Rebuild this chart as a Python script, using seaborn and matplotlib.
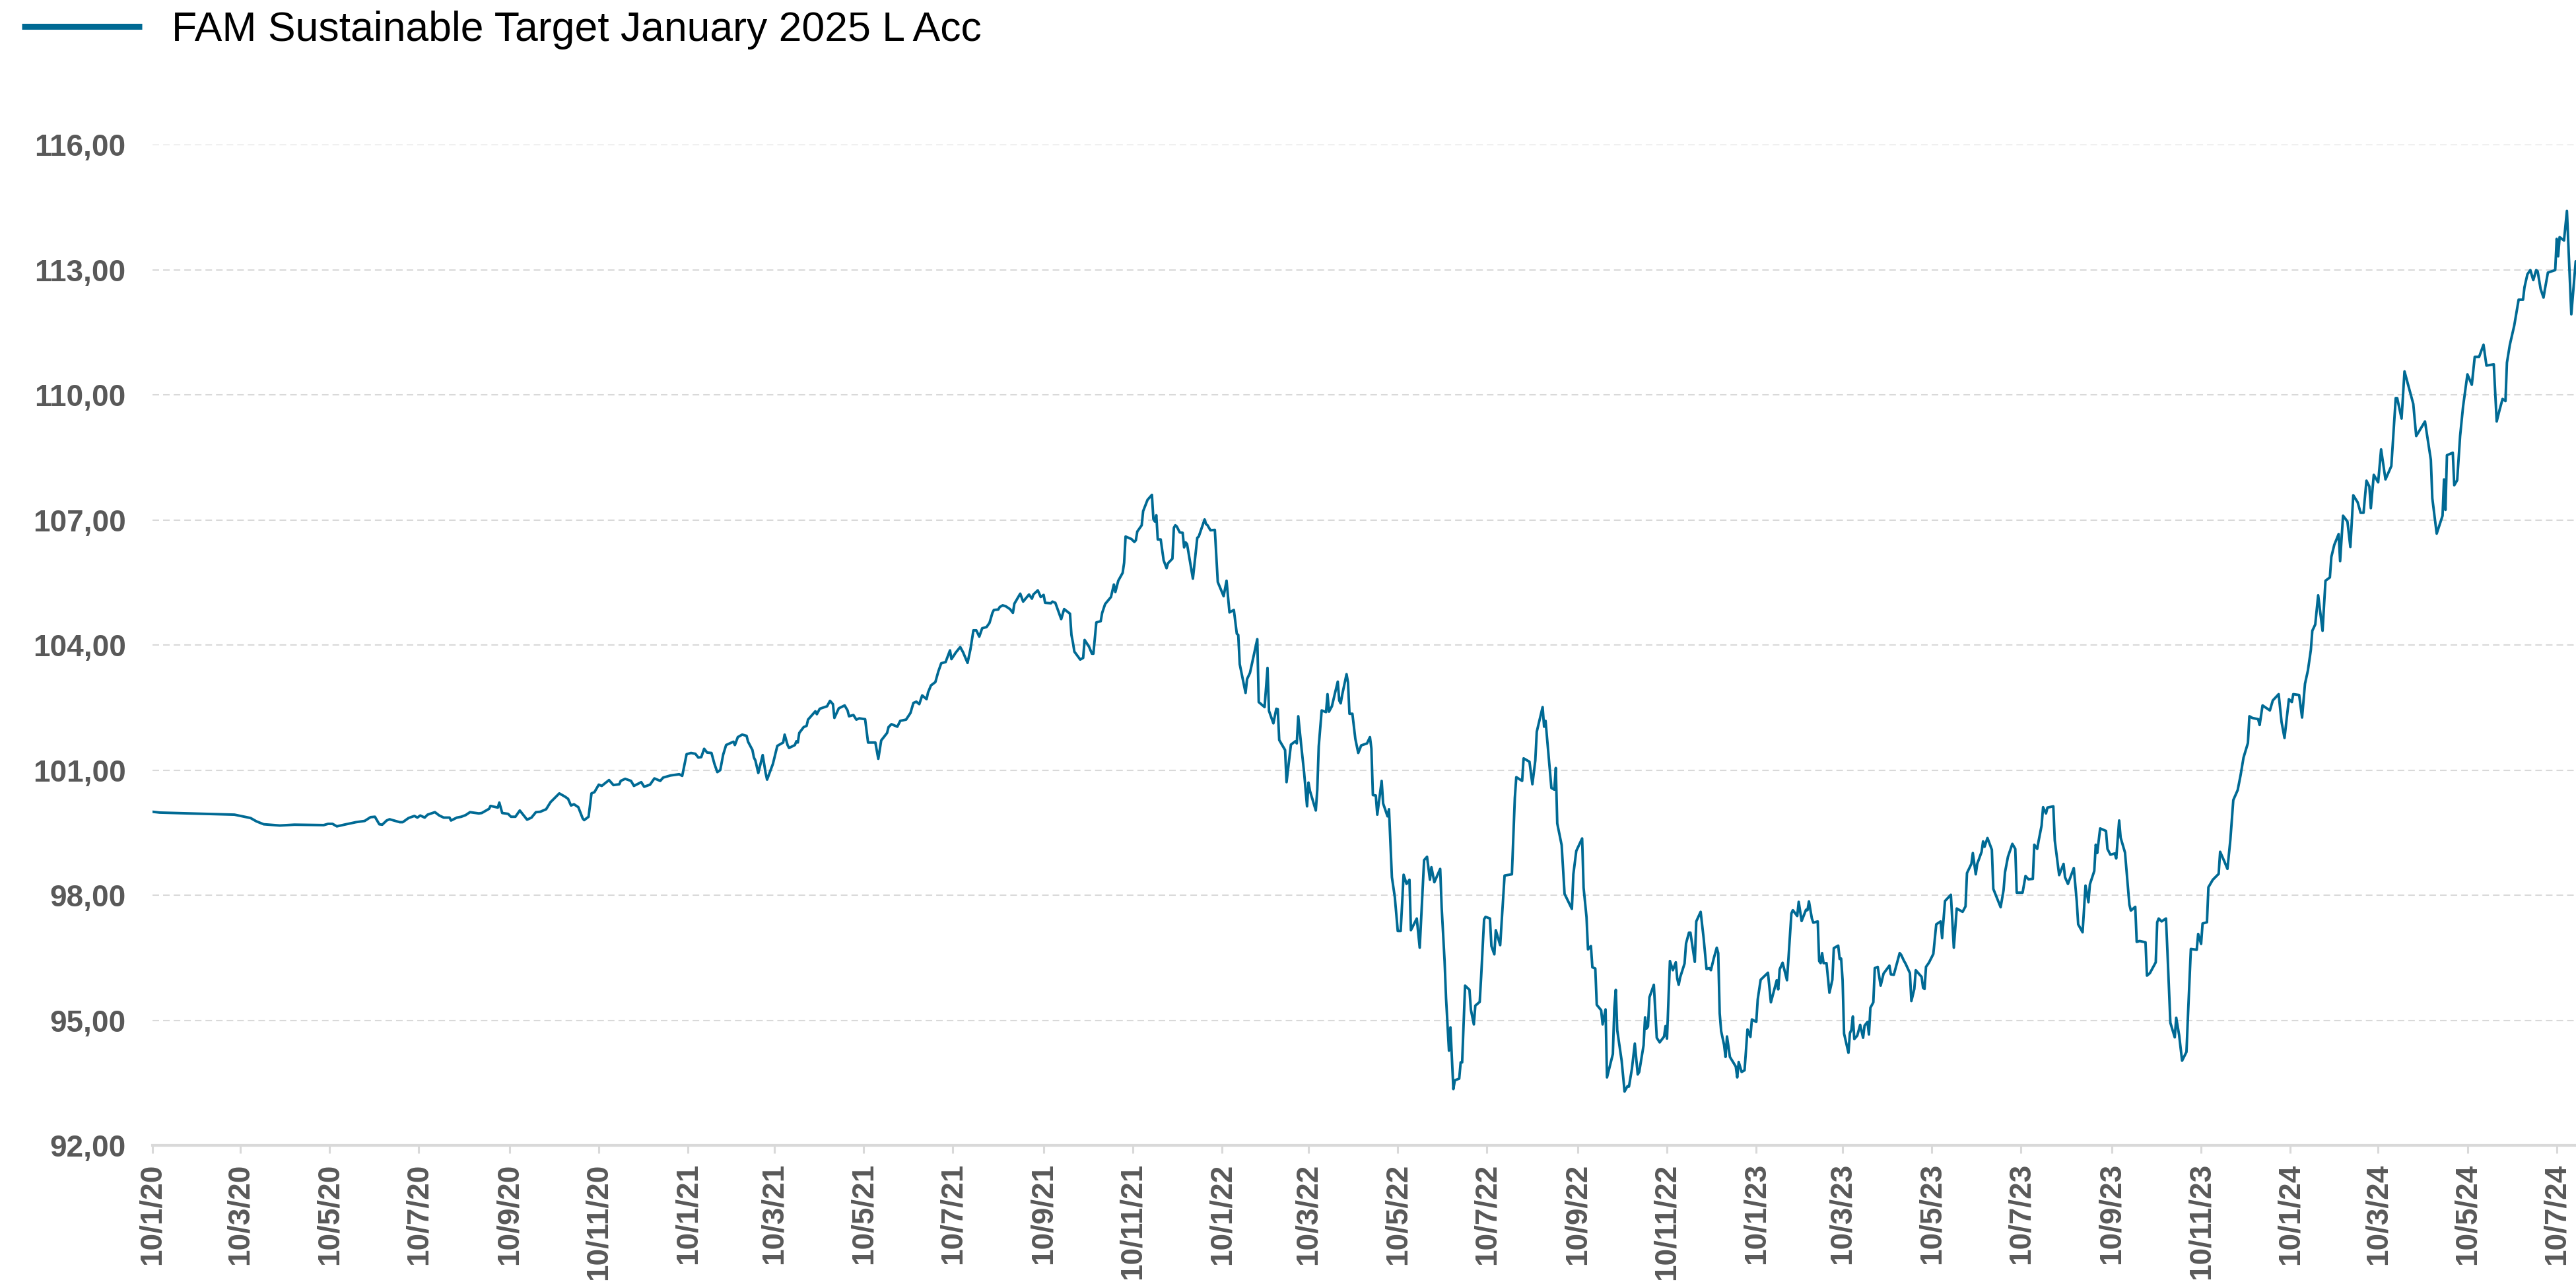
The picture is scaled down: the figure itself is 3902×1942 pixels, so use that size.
import matplotlib
matplotlib.use("Agg")
import matplotlib.pyplot as plt
import matplotlib.ticker as mticker
from matplotlib.lines import Line2D
import pandas as pd
import seaborn as sns

# ---------------------------------------------------------------------------
# Data: net asset value per share, indexed by calendar days since 10/1/2020
# ---------------------------------------------------------------------------
START_DATE = "2020-01-10"
FUND_NAME = "FAM Sustainable Target January 2025 L Acc"

nav_2020 = [
    (0, 100.00), (5, 99.98), (56, 99.93), (67, 99.85), (71, 99.77), (76, 99.70),
    (87, 99.67), (97, 99.69), (117, 99.68), (120, 99.71), (123, 99.71), (126, 99.65),
    (131, 99.69), (139, 99.75), (145, 99.78), (149, 99.87), (152, 99.88), (155, 99.70),
    (157, 99.69), (160, 99.79), (162, 99.82), (169, 99.75), (171, 99.75), (175, 99.85),
    (179, 99.90), (181, 99.86), (183, 99.91), (186, 99.86), (188, 99.93), (193, 99.99),
    (196, 99.91), (199, 99.86), (203, 99.86), (204, 99.79), (208, 99.86), (211, 99.88),
    (214, 99.92), (217, 99.99), (223, 99.96), (225, 99.97), (230, 100.07), (231, 100.14),
    (236, 100.10), (237, 100.22), (239, 99.97), (243, 99.95), (245, 99.88), (248, 99.88),
    (251, 100.03), (256, 99.81), (259, 99.86), (262, 99.99), (265, 100.00), (269, 100.06),
    (272, 100.23), (278, 100.44), (282, 100.36), (284, 100.31), (286, 100.15), (288, 100.18),
    (291, 100.11), (294, 99.84), (295, 99.80), (298, 99.88), (300, 100.44), (302, 100.47),
    (305, 100.65), (307, 100.62), (312, 100.76), (315, 100.64), (319, 100.66), (320, 100.74),
    (323, 100.79), (327, 100.74), (329, 100.62), (334, 100.71), (336, 100.60), (340, 100.65),
    (343, 100.80), (347, 100.74), (349, 100.82), (354, 100.87),
]

nav_2021 = [
    (360, 100.90), (362, 100.86), (365, 101.38), (368, 101.41), (371, 101.39), (373, 101.30),
    (375, 101.31), (377, 101.51), (379, 101.42), (382, 101.41), (384, 101.15), (386, 100.95),
    (388, 101.00), (390, 101.37), (392, 101.60), (397, 101.68), (398, 101.60), (400, 101.79),
    (403, 101.85), (406, 101.82), (407, 101.68), (410, 101.48), (411, 101.30), (412, 101.23),
    (414, 100.93), (417, 101.36), (419, 100.93), (420, 100.77), (424, 101.15), (427, 101.58),
    (431, 101.66), (432, 101.85), (434, 101.60), (435, 101.53), (439, 101.60), (440, 101.69),
    (441, 101.66), (442, 101.89), (445, 102.03), (447, 102.06), (448, 102.21), (451, 102.33),
    (453, 102.41), (454, 102.34), (456, 102.47), (461, 102.53), (463, 102.66), (465, 102.58),
    (466, 102.25), (469, 102.48), (473, 102.55), (475, 102.43), (476, 102.29), (479, 102.32),
    (481, 102.21), (483, 102.24), (487, 102.22), (489, 101.66), (491, 101.66), (494, 101.66),
    (496, 101.27), (498, 101.71), (502, 101.89), (503, 102.03), (505, 102.10), (509, 102.04),
    (511, 102.18), (515, 102.21), (518, 102.37), (520, 102.61), (522, 102.64), (524, 102.58),
    (526, 102.79), (529, 102.70), (530, 102.86), (532, 103.03), (535, 103.11), (537, 103.36),
    (539, 103.56), (542, 103.59), (545, 103.87), (546, 103.66), (549, 103.82), (552, 103.95),
    (554, 103.82), (557, 103.57), (559, 103.90), (561, 104.35), (563, 104.35), (565, 104.20),
    (567, 104.40), (570, 104.43), (572, 104.53), (574, 104.77), (575, 104.84), (578, 104.85),
    (579, 104.91), (581, 104.95), (583, 104.93), (586, 104.86), (588, 104.77), (589, 104.99),
    (593, 105.23), (595, 105.04), (599, 105.21), (601, 105.11), (602, 105.21), (605, 105.31),
    (607, 105.15), (609, 105.20), (610, 105.01), (614, 105.00), (615, 105.04), (617, 105.01),
    (621, 104.62), (623, 104.86), (627, 104.75), (628, 104.24), (629, 104.06), (630, 103.84),
    (634, 103.65), (636, 103.69), (637, 104.12), (640, 103.96), (642, 103.79), (643, 103.79),
    (645, 104.54), (648, 104.57), (649, 104.77), (651, 104.98), (655, 105.15), (657, 105.45),
    (658, 105.27), (660, 105.54), (663, 105.73), (664, 105.97), (665, 106.60), (669, 106.54),
    (671, 106.47), (672, 106.51), (673, 106.72), (676, 106.87), (677, 107.21), (678, 107.30),
    (680, 107.48), (683, 107.60), (684, 107.02), (685, 106.96), (686, 107.11), (687, 106.53),
    (689, 106.53), (691, 106.03), (693, 105.84), (694, 105.96), (697, 106.07), (698, 106.81),
    (699, 106.87), (700, 106.84), (702, 106.70), (704, 106.69), (705, 106.34), (706, 106.46),
    (707, 106.42), (711, 105.59), (714, 106.57), (715, 106.60), (719, 107.01), (720, 106.90),
    (721, 106.87),
]

nav_2022 = [
    (723, 106.75), (726, 106.76), (728, 105.51), (732, 105.17), (734, 105.54), (736, 104.78),
    (739, 104.84), (741, 104.27), (742, 104.24), (743, 103.54), (747, 102.85), (748, 103.18),
    (750, 103.33), (755, 104.14), (756, 102.63), (760, 102.51), (762, 103.45), (763, 102.42),
    (766, 102.12), (768, 102.47), (769, 102.46), (770, 101.72), (774, 101.48), (775, 100.71),
    (778, 101.61), (781, 101.69), (782, 101.64), (783, 102.29), (785, 101.60), (787, 100.94),
    (789, 100.13), (790, 100.70), (791, 100.50), (795, 100.03), (796, 100.53), (797, 101.57),
    (799, 102.43), (802, 102.39), (803, 102.82), (804, 102.40), (806, 102.53), (808, 102.83),
    (810, 103.12), (811, 102.67), (812, 102.60), (813, 102.80), (816, 103.30), (817, 103.10),
    (818, 102.35), (820, 102.35), (822, 101.75), (824, 101.41), (826, 101.59), (830, 101.64),
    (832, 101.79), (833, 101.51), (834, 100.40), (836, 100.39), (837, 99.93), (840, 100.74),
    (841, 100.20), (844, 99.89), (845, 100.06), (847, 98.43), (849, 97.95), (851, 97.14),
    (853, 97.14), (855, 98.49), (857, 98.27), (859, 98.37), (860, 97.16), (864, 97.44),
    (866, 96.74), (869, 98.84), (871, 98.92), (873, 98.37), (874, 98.67), (876, 98.31),
    (880, 98.63), (881, 97.71), (883, 96.42), (884, 95.53), (886, 94.27), (887, 94.83),
    (889, 93.35), (890, 93.56), (893, 93.60), (894, 93.99), (895, 93.99), (897, 95.83),
    (900, 95.73), (901, 95.25), (903, 94.90), (904, 95.35), (907, 95.44), (908, 96.05),
    (910, 97.42), (911, 97.48), (914, 97.44), (915, 96.78), (917, 96.58), (918, 97.16),
    (921, 96.80), (924, 98.47), (929, 98.50), (931, 100.33), (932, 100.83), (936, 100.74),
    (937, 101.28), (941, 101.20), (943, 100.66), (945, 101.23), (946, 101.92), (950, 102.51),
    (951, 102.04), (952, 102.18), (956, 100.57), (958, 100.53), (959, 101.05), (960, 99.72),
    (963, 99.20), (965, 98.03), (970, 97.67), (971, 98.50), (973, 99.06), (977, 99.36),
    (978, 98.18), (980, 97.47), (981, 96.70), (983, 96.78), (984, 96.27), (986, 96.24),
    (987, 95.37), (990, 95.24), (991, 94.90), (993, 95.26), (994, 93.63), (998, 94.19),
    (999, 95.29), (1000, 95.73), (1001, 94.76), (1004, 94.03), (1006, 93.29), (1008, 93.42),
    (1009, 93.41), (1011, 93.83), (1013, 94.44), (1015, 93.70), (1016, 93.76), (1019, 94.40),
    (1020, 95.07), (1021, 94.80), (1022, 94.85), (1023, 95.55), (1026, 95.85), (1028, 94.58),
    (1030, 94.47), (1033, 94.61), (1034, 94.86), (1035, 94.56), (1037, 96.42), (1039, 96.20),
    (1041, 96.39), (1042, 96.00), (1043, 95.85), (1044, 96.03), (1047, 96.36), (1048, 96.84),
    (1050, 97.10), (1051, 97.10), (1054, 96.40), (1055, 97.37), (1058, 97.60), (1060, 96.98),
    (1062, 96.23), (1064, 96.25), (1065, 96.20), (1067, 96.49), (1069, 96.74), (1070, 96.61),
    (1071, 95.17), (1072, 94.74), (1074, 94.41), (1075, 94.12), (1076, 94.61), (1078, 94.12),
    (1082, 93.89), (1083, 93.63), (1084, 94.00), (1086, 93.76),
]

nav_2023 = [
    (1088, 93.80), (1090, 94.78), (1092, 94.60), (1093, 95.02), (1096, 94.96), (1097, 95.50),
    (1099, 95.97), (1104, 96.14), (1106, 95.43), (1110, 95.96), (1111, 95.74), (1112, 96.22),
    (1114, 96.38), (1117, 95.96), (1118, 96.48), (1120, 97.56), (1121, 97.64), (1124, 97.50),
    (1125, 97.84), (1127, 97.38), (1130, 97.65), (1131, 97.64), (1132, 97.85), (1134, 97.44),
    (1135, 97.34), (1138, 97.37), (1139, 96.42), (1140, 96.37), (1141, 96.61), (1142, 96.37),
    (1144, 96.37), (1146, 95.66), (1148, 95.97), (1149, 96.73), (1152, 96.79), (1153, 96.47),
    (1154, 96.48), (1155, 95.96), (1156, 94.68), (1159, 94.22), (1160, 94.69), (1161, 94.77),
    (1162, 95.09), (1163, 94.55), (1165, 94.63), (1167, 94.89), (1169, 94.58), (1170, 94.87),
    (1172, 94.96), (1173, 94.66), (1174, 95.30), (1176, 95.43), (1177, 96.25), (1179, 96.28),
    (1181, 95.83), (1183, 96.12), (1187, 96.31), (1188, 96.10), (1190, 96.09), (1194, 96.61),
    (1195, 96.57), (1197, 96.42), (1198, 96.36), (1201, 96.13), (1202, 95.46), (1204, 95.75),
    (1205, 96.20), (1209, 96.04), (1210, 95.78), (1211, 95.75), (1212, 96.28), (1214, 96.38),
    (1217, 96.59), (1219, 97.30), (1222, 97.37), (1223, 96.97), (1224, 97.43), (1225, 97.86),
    (1229, 98.01), (1231, 96.74), (1233, 97.68), (1237, 97.60), (1239, 97.73), (1240, 98.53),
    (1243, 98.75), (1244, 99.01), (1246, 98.50), (1247, 98.75), (1250, 99.04), (1251, 99.29),
    (1252, 99.16), (1254, 99.37), (1257, 99.09), (1258, 98.15), (1263, 97.71), (1265, 98.12),
    (1266, 98.55), (1268, 98.92), (1271, 99.23), (1273, 99.11), (1274, 98.06), (1278, 98.06),
    (1280, 98.46), (1282, 98.38), (1285, 98.39), (1286, 99.21), (1288, 99.11), (1289, 99.31),
    (1291, 99.67), (1292, 100.11), (1294, 99.96), (1295, 100.10), (1299, 100.13), (1300, 99.31),
    (1303, 98.48), (1306, 98.75), (1307, 98.43), (1309, 98.27), (1313, 98.65), (1315, 97.86),
    (1316, 97.30), (1319, 97.11), (1321, 98.23), (1323, 97.83), (1324, 98.26), (1327, 98.58),
    (1328, 99.21), (1329, 99.01), (1331, 99.60), (1335, 99.54), (1336, 99.11), (1338, 98.97),
    (1341, 99.00), (1342, 98.88), (1344, 99.79), (1345, 99.38), (1348, 99.02), (1351, 97.77),
    (1352, 97.63), (1355, 97.72), (1356, 96.88), (1358, 96.90), (1362, 96.87), (1363, 96.07),
    (1365, 96.13), (1369, 96.39), (1370, 97.35), (1371, 97.44), (1373, 97.37), (1376, 97.44),
    (1377, 96.64), (1379, 94.94), (1382, 94.59), (1383, 95.06), (1385, 94.64), (1387, 94.03),
    (1390, 94.24), (1391, 95.09), (1393, 96.71), (1397, 96.69), (1398, 97.07), (1400, 96.83),
    (1401, 97.32), (1404, 97.35), (1405, 98.19), (1408, 98.37), (1412, 98.51), (1413, 99.04),
    (1416, 98.80), (1418, 98.63), (1420, 99.33), (1422, 100.28), (1425, 100.52), (1427, 100.88),
    (1429, 101.30), (1432, 101.65), (1433, 102.29), (1435, 102.25), (1439, 102.22), (1440, 102.08),
    (1442, 102.55), (1447, 102.43), (1449, 102.67),
]

nav_2024 = [
    (1453, 102.82), (1455, 102.15), (1457, 101.77), (1460, 102.70), (1462, 102.63), (1463, 102.82),
    (1467, 102.80), (1469, 102.26), (1471, 103.07), (1473, 103.39), (1475, 103.88), (1476, 104.34),
    (1478, 104.49), (1480, 105.19), (1483, 104.34), (1485, 105.54), (1488, 105.62), (1489, 106.11),
    (1491, 106.40), (1494, 106.66), (1495, 106.01), (1497, 107.10), (1500, 106.96), (1502, 106.35),
    (1504, 107.59), (1507, 107.42), (1509, 107.17), (1511, 107.17), (1513, 107.94), (1515, 107.80),
    (1516, 107.28), (1518, 108.08), (1521, 107.90), (1523, 108.69), (1526, 107.97), (1530, 108.29),
    (1533, 109.92), (1534, 109.92), (1537, 109.43), (1539, 110.56), (1545, 109.78), (1547, 109.01),
    (1553, 109.36), (1557, 108.44), (1558, 107.52), (1561, 106.67), (1565, 107.10), (1566, 107.97),
    (1567, 107.24), (1568, 108.55), (1572, 108.61), (1573, 107.83), (1575, 107.95), (1577, 109.01),
    (1579, 109.71), (1582, 110.49), (1585, 110.24), (1587, 110.91), (1590, 110.91), (1593, 111.20),
    (1595, 110.70), (1600, 110.73), (1602, 109.36), (1604, 109.64), (1606, 109.90), (1608, 109.85),
    (1609, 110.77), (1611, 111.20), (1614, 111.66), (1617, 112.28), (1620, 112.28), (1621, 112.58),
    (1623, 112.89), (1625, 112.99), (1627, 112.75), (1629, 112.99), (1630, 112.96), (1632, 112.54),
    (1634, 112.33), (1635, 112.54), (1637, 112.93), (1642, 112.99), (1643, 113.74), (1644, 113.32),
    (1645, 113.78), (1648, 113.70), (1650, 114.41), (1653, 111.93), (1656, 113.20),
]

y_ticks = [92, 95, 98, 101, 104, 107, 110, 113, 116]
tick_every_months = 2
n_date_ticks = 28

# ---------------------------------------------------------------------------
# Build the frame
# ---------------------------------------------------------------------------
rows = nav_2020 + nav_2021 + nav_2022 + nav_2023 + nav_2024
df = pd.DataFrame(rows, columns=["day", "nav"])
start = pd.Timestamp(START_DATE)
df["date"] = start + pd.to_timedelta(df["day"], unit="D")

# ---------------------------------------------------------------------------
# Style
# ---------------------------------------------------------------------------
sns.set_theme(style="white")
plt.rcParams["font.family"] = ["Liberation Sans", "DejaVu Sans"]

LINE_BLUE = "#006A94"
GRID_GREY = "#D9D9D9"
LABEL_GREY = "#595959"

W, H = 3902, 1942
fig = plt.figure(figsize=(W / 100, H / 100), dpi=100)
ax = fig.add_axes([231 / W, 1 - 1735 / H, (W - 231) / W, (1735 - 219) / H])

sns.lineplot(data=df, x="date", y="nav", ax=ax, color=LINE_BLUE, linewidth=2.8,
             estimator=None, sort=False, legend=False)

# axes limits
ax.set_ylim(92, 116)
ax.set_xlim(start, start + pd.Timedelta(days=1656.2))

# y axis: dashed grid, comma decimals, no tick marks
ax.set_yticks(y_ticks)
ax.yaxis.set_major_formatter(mticker.FuncFormatter(lambda v, _: f"{v:.2f}".replace(".", ",")))
ax.yaxis.grid(True, color=GRID_GREY, linewidth=1.5, linestyle=(0, (4.8, 2.9)))
ax.xaxis.grid(False)
ax.set_axisbelow(True)
ax.tick_params(axis="y", length=0, pad=29, labelsize=33, labelcolor=LABEL_GREY)

# x axis: a tick every two months on the 10th
date_ticks = [start + pd.DateOffset(months=tick_every_months * i) for i in range(n_date_ticks)]
ax.set_xticks(date_ticks)
ax.set_xticklabels([f"{d.day}/{d.month}/{d.year % 100:02d}" for d in date_ticks],
                   rotation=90)
ax.tick_params(axis="x", direction="out", length=8.6, width=2.2, color=GRID_GREY,
               pad=11, labelsize=33, labelcolor=LABEL_GREY, bottom=True)
for lbl in ax.get_xticklabels() + ax.get_yticklabels():
    lbl.set_fontweight("bold")

for side in ("top", "right", "left"):
    ax.spines[side].set_visible(False)
ax.spines["bottom"].set_color(GRID_GREY)
ax.spines["bottom"].set_linewidth(3.0)

ax.set_xlabel("")
ax.set_ylabel("")

# legend in the top-left corner of the figure
handle = Line2D([], [], color=LINE_BLUE, linewidth=6.5, solid_capstyle="butt")
fig.legend([handle], [FUND_NAME], loc="upper left", bbox_to_anchor=(33 / W, 1 - 16 / H),
           frameon=False, fontsize=45, handlelength=2.91, handletextpad=0.72,
           borderpad=0, borderaxespad=0, labelcolor="black")

fig.savefig("out.png", dpi=100)
